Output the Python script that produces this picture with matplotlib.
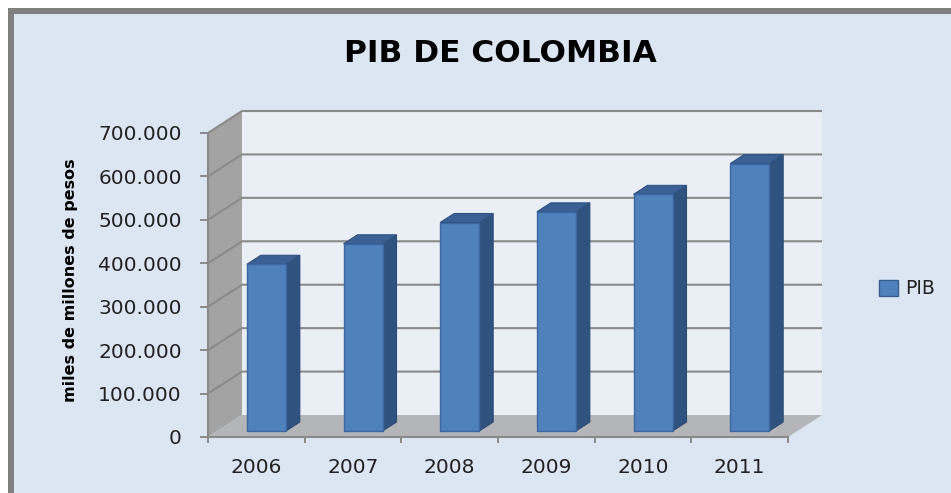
import numpy as np
import matplotlib
matplotlib.use("Agg")
import matplotlib.pyplot as plt
from matplotlib.patches import Rectangle, Polygon, Patch
from matplotlib.ticker import FuncFormatter

# PIB de Colombia, miles de millones de pesos
years = ["2006", "2007", "2008", "2009", "2010", "2011"]
pib = [383898, 431072, 480087, 504647, 544924, 615727]
y_ticks = [0, 100000, 200000, 300000, 400000, 500000, 600000, 700000]

W, H = 951, 493
fig = plt.figure(figsize=(W / 100, H / 100), dpi=100)
fig.patch.set_facecolor("white")

# chart frame (gray border + light blue fill)
fig.add_artist(Rectangle((8 / W, -0.1), 1.2, 1 - 8 / H + 0.1, transform=fig.transFigure,
                         facecolor="#7F7F7F", edgecolor="none", zorder=0))
fig.add_artist(Rectangle((14 / W, -0.1), 1.2, 1 - 14 / H + 0.1, transform=fig.transFigure,
                         facecolor="#DCE6F2", edgecolor="none", zorder=0))

# front plane of the 3d box
ax = fig.add_axes([208 / W, 56 / H, 580 / W, 304 / H])
ax.set_facecolor("none")
n = len(years)
ax.set_xlim(0, n)
ax.set_ylim(0, 700000)

# pixel -> data helpers
px_x = n / 580.0
px_y = 700000 / 304.0
DX, DY = 34 * px_x, 22 * px_y          # depth of the box
bx0, by0 = 10 * px_x, 6 * px_y          # bar front offset
bdx, bdy = 14 * px_x, 9 * px_y          # bar depth
bw = 39 * px_x

grid_c = "#8A8A8A"
# side wall
ax.add_patch(Polygon([(0, 0), (0, 700000), (DX, 700000 + DY), (DX, DY)], closed=True,
                     facecolor="#A3A3A3", edgecolor="none", clip_on=False, zorder=1))
# back wall
ax.add_patch(Rectangle((DX, DY), n, 700000, facecolor="#EAEEF5", edgecolor="none",
                       clip_on=False, zorder=1))
# floor
ax.add_patch(Polygon([(0, 0), (n, 0), (n + DX, DY), (DX, DY)], closed=True,
                     facecolor="#B3B5B8", edgecolor="none", clip_on=False, zorder=1))

# gridlines on walls
for v in y_ticks[1:]:
    ax.plot([0, DX, n + DX], [v, v + DY, v + DY], color=grid_c, lw=1.5,
            clip_on=False, zorder=2, solid_capstyle="butt")

# bars
xs = np.arange(n) + 0.5
xl = xs - bw / 2 + bx0
ax.bar(xl, pib, width=bw, bottom=by0, align="edge", color="#4F81BD",
       edgecolor="#3B66A0", linewidth=1, zorder=5, clip_on=False)
for x0, v in zip(xl, pib):
    x1 = x0 + bw
    top = v + by0
    ax.add_patch(Polygon([(x1, by0), (x1, top), (x1 + bdx, top + bdy), (x1 + bdx, by0 + bdy)],
                         closed=True, facecolor="#30527F", edgecolor="#2C4B74", lw=0.8,
                         clip_on=False, zorder=4))
    ax.add_patch(Polygon([(x0, top), (x1, top), (x1 + bdx, top + bdy), (x0 + bdx, top + bdy)],
                         closed=True, facecolor="#3B6194", edgecolor="#2F5282", lw=0.8,
                         clip_on=False, zorder=4))

# axes lines and ticks
for s in ["top", "right"]:
    ax.spines[s].set_visible(False)
for s in ["left", "bottom"]:
    ax.spines[s].set_color(grid_c)
    ax.spines[s].set_linewidth(1.5)
    ax.spines[s].set_zorder(3)

ax.set_yticks(y_ticks)
ax.yaxis.set_major_formatter(FuncFormatter(lambda v, p: f"{int(v):,}".replace(",", ".")))
ax.tick_params(axis="y", length=5.8, width=1.4, color=grid_c, pad=13,
               labelsize=14.5, labelcolor="#222222")

ax.set_xticks(np.arange(n + 1))
ax.set_xticklabels([])
ax.set_xticks(xs, minor=True)
ax.set_xticklabels(years, minor=True)
ax.tick_params(axis="x", which="major", length=4.5, width=1.4, color=grid_c)
ax.tick_params(axis="x", which="minor", length=0, pad=15, labelsize=14.5,
               labelcolor="#222222")

# title, y label, legend
fig.text(500 / W, 1 - 54 / H, "PIB DE COLOMBIA", ha="center", va="center",
         fontsize=22.5, fontweight="bold", color="black")
fig.text(70 / W, 1 - 280 / H, "miles de millones de pesos", ha="center", va="center",
         rotation=90, fontsize=11.5, fontweight="bold", color="black")
fig.legend(handles=[Patch(facecolor="#4F81BD", edgecolor="#385D8A", label="PIB")],
           loc="center left", bbox_to_anchor=(862 / W, 1 - 289 / H), frameon=False,
           fontsize=13.5, handlelength=1.0, handleheight=0.9, handletextpad=0.4,
           labelcolor="#222222")

fig.savefig("out.png", dpi=100)
